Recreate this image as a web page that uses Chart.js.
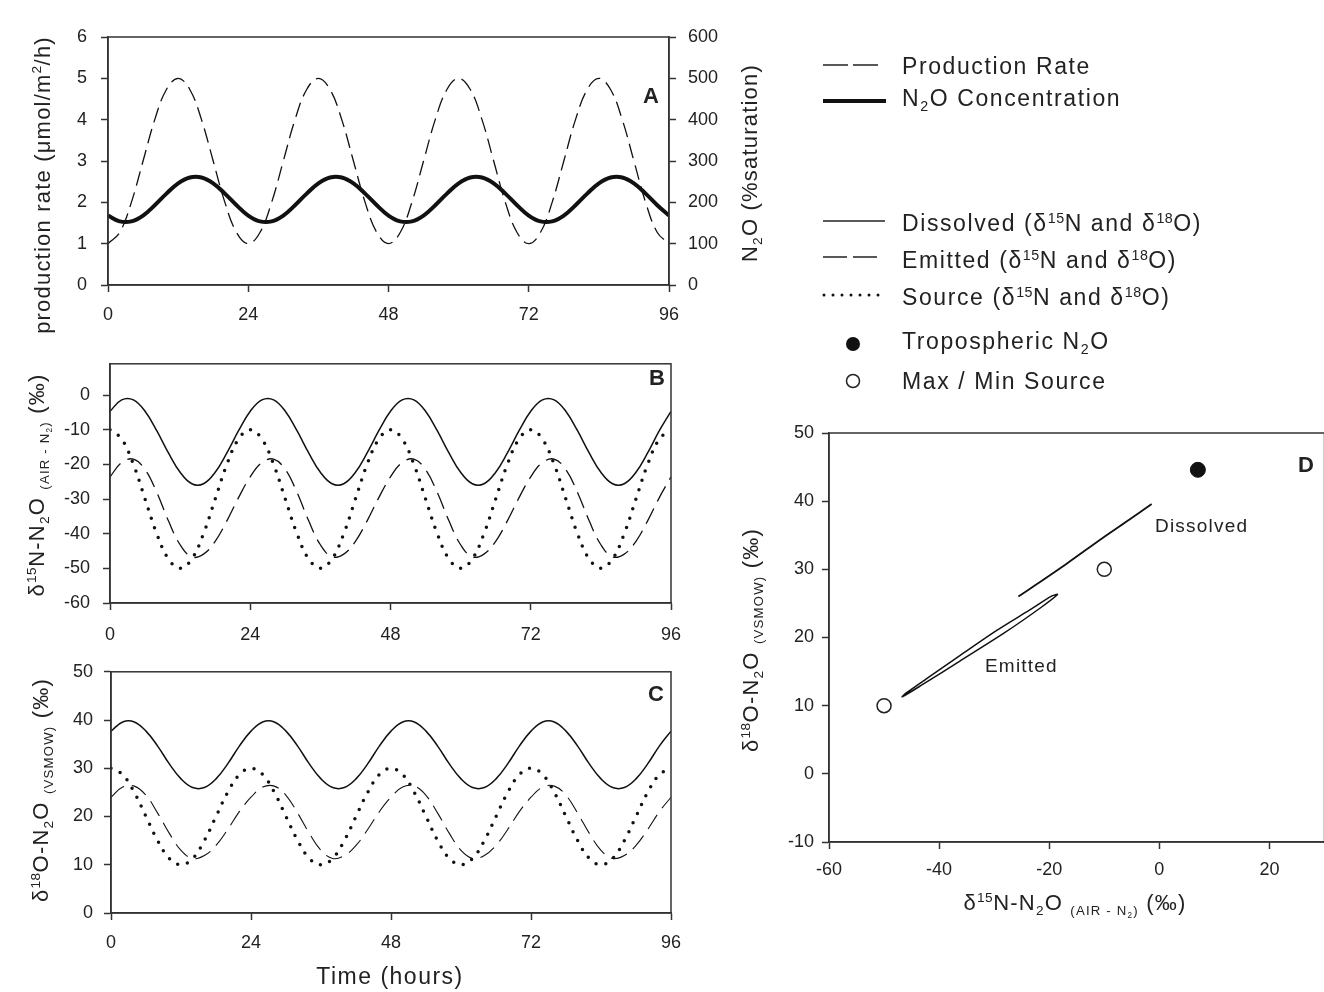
<!DOCTYPE html>
<html lang="en">
<head>
<meta charset="UTF-8" />
<title>N2O production and isotopes</title>
<script src="https://cdn.jsdelivr.net/npm/chart.js"></script>
<style>
  * { margin: 0; padding: 0; box-sizing: border-box; }
  body {
    width: 1324px; height: 992px; background: #fff; position: relative; overflow: hidden;
    font-family: 'Liberation Sans', Arial, sans-serif; color: #222;
  }
  .panel { position: absolute; }
  .txt { position: absolute; white-space: nowrap; letter-spacing: 1.2px; font-size: 22px; line-height: 1; }
  .rot { transform: translate(-50%, -50%) rotate(-90deg); }
  .ctr { transform: translate(-50%, -50%); }
  .mid { transform: translateY(-50%); }
  .sup { font-size: 0.62em; vertical-align: 0.6em; letter-spacing: 0.5px; }
  .sub { font-size: 0.62em; vertical-align: -0.35em; }
  .small { font-size: 0.6em; vertical-align: -0.4em; }
  .tag { font-weight: bold; font-size: 22px; letter-spacing: 0; }
  .lg { font-size: 23px; letter-spacing: 1.6px; }
  svg.overlay { position: absolute; left: 0; top: 0; pointer-events: none; }
</style>
</head>
<body>

<div class="panel" style="left:0;top:0;width:760px;height:340px"><canvas id="chartA" width="760" height="340"></canvas></div>
<div class="panel" style="left:0;top:340px;width:700px;height:320px"><canvas id="chartB" width="700" height="320"></canvas></div>
<div class="panel" style="left:0;top:650px;width:700px;height:342px"><canvas id="chartC" width="700" height="342"></canvas></div>
<div class="panel" style="left:740px;top:400px;width:593px;height:500px"><canvas id="chartD" width="593" height="500"></canvas></div>

<!-- axis titles -->
<div class="txt rot" style="left:42px;top:185px">production rate (&mu;mol/m<span class="sup">2</span>/h)</div>
<div class="txt rot" style="left:752px;top:163px">N<span class="sub">2</span>O (%saturation)</div>
<div class="txt rot" style="left:40px;top:485px">&delta;<span class="sup">15</span>N-N<span class="sub">2</span>O <span class="small">(AIR - N<span class="sub">2</span>)</span> (&permil;)</div>
<div class="txt rot" style="left:42px;top:790px">&delta;<span class="sup">18</span>O-N<span class="sub">2</span>O <span class="small">(VSMOW)</span> (&permil;)</div>
<div class="txt ctr" style="left:390px;top:976px;font-size:23px;letter-spacing:1.5px">Time (hours)</div>
<div class="txt rot" style="left:752px;top:640px">&delta;<span class="sup">18</span>O-N<span class="sub">2</span>O <span class="small">(VSMOW)</span> (&permil;)</div>
<div class="txt ctr" style="left:1075px;top:906px">&delta;<span class="sup">15</span>N-N<span class="sub">2</span>O <span class="small">(AIR - N<span class="sub">2</span>)</span> (&permil;)</div>

<!-- panel tags and annotations -->
<div class="txt ctr tag" style="left:651px;top:96px">A</div>
<div class="txt ctr tag" style="left:657px;top:378px">B</div>
<div class="txt ctr tag" style="left:656px;top:694px">C</div>
<div class="txt ctr tag" style="left:1306px;top:465px">D</div>
<div class="txt mid" style="left:1155px;top:525px;font-size:19px">Dissolved</div>
<div class="txt mid" style="left:985px;top:665px;font-size:19px">Emitted</div>

<!-- legend -->
<svg class="overlay" width="1324" height="992">
  <line x1="823" y1="65" x2="878" y2="65" stroke="#222" stroke-width="1.5" stroke-dasharray="25 5"/>
  <line x1="823" y1="101" x2="886" y2="101" stroke="#111" stroke-width="4"/>
  <line x1="823" y1="221" x2="885" y2="221" stroke="#222" stroke-width="1.5"/>
  <line x1="823" y1="257" x2="877" y2="257" stroke="#222" stroke-width="1.5" stroke-dasharray="24 6"/>
  <line x1="824" y1="295" x2="879" y2="295" stroke="#111" stroke-width="3" stroke-linecap="round" stroke-dasharray="0 9"/>
  <circle cx="853" cy="344" r="7" fill="#111"/>
  <circle cx="853" cy="381" r="6.5" fill="#fff" stroke="#222" stroke-width="1.5"/>
</svg>
<div class="txt mid lg" style="left:902px;top:66px">Production Rate</div>
<div class="txt mid lg" style="left:902px;top:100px">N<span class="sub">2</span>O Concentration</div>
<div class="txt mid lg" style="left:902px;top:223px">Dissolved (&delta;<span class="sup">15</span>N and &delta;<span class="sup">18</span>O)</div>
<div class="txt mid lg" style="left:902px;top:260px">Emitted (&delta;<span class="sup">15</span>N and &delta;<span class="sup">18</span>O)</div>
<div class="txt mid lg" style="left:902px;top:297px">Source (&delta;<span class="sup">15</span>N and &delta;<span class="sup">18</span>O)</div>
<div class="txt mid lg" style="left:902px;top:343px">Tropospheric N<span class="sub">2</span>O</div>
<div class="txt mid lg" style="left:902px;top:381px">Max / Min Source</div>

<script>
// time axis (hours), one reading every 2 h
const hours = [0, 2, 4, 6, 8, 10, 12, 14, 16, 18, 20, 22,
  24, 26, 28, 30, 32, 34, 36, 38, 40, 42, 44, 46,
  48, 50, 52, 54, 56, 58, 60, 62, 64, 66, 68, 70,
  72, 74, 76, 78, 80, 82, 84, 86, 88, 90, 92, 94, 96];
const hourTicks = [0, 24, 48, 72, 96];

// panel A
const productionRate = [1, 1.27, 2, 3, 4, 4.73, 5, 4.73, 4, 3, 2, 1.27,
  1, 1.27, 2, 3, 4, 4.73, 5, 4.73, 4, 3, 2, 1.27,
  1, 1.27, 2, 3, 4, 4.73, 5, 4.73, 4, 3, 2, 1.27,
  1, 1.27, 2, 3, 4, 4.73, 5, 4.73, 4, 3, 2, 1.27, 1];
const n2oSaturation = [168, 154, 154, 168, 193, 221, 246, 260, 260, 246, 221, 193,
  168, 154, 154, 168, 193, 221, 246, 260, 260, 246, 221, 193,
  168, 154, 154, 168, 193, 221, 246, 260, 260, 246, 221, 193,
  168, 154, 154, 168, 193, 221, 246, 260, 260, 246, 221, 193, 168];

// panel B: d15N
const dissolved15N = [-4.7, -1.4, -1.4, -4.7, -10.3, -16.7, -22.3, -25.6, -25.6, -22.3, -16.7, -10.3,
  -4.7, -1.4, -1.4, -4.7, -10.3, -16.7, -22.3, -25.6, -25.6, -22.3, -16.7, -10.3,
  -4.7, -1.4, -1.4, -4.7, -10.3, -16.7, -22.3, -25.6, -25.6, -22.3, -16.7, -10.3,
  -4.7, -1.4, -1.4, -4.7, -10.3, -16.7, -22.3, -25.6, -25.6, -22.3, -16.7, -10.3, -4.7];
const emitted15N = [-23.6, -19.5, -18.5, -21.5, -28.1, -36.3, -43.2, -46.7, -45.9, -42.2, -36.3, -29.6,
  -23.6, -19.5, -18.5, -21.5, -28.1, -36.3, -43.2, -46.7, -45.9, -42.2, -36.3, -29.6,
  -23.6, -19.5, -18.5, -21.5, -28.1, -36.3, -43.2, -46.7, -45.9, -42.2, -36.3, -29.6,
  -23.6, -19.5, -18.5, -21.5, -28.1, -36.3, -43.2, -46.7, -45.9, -42.2, -36.3, -29.6, -23.6];
const source15N = [-10, -12.7, -20, -30, -40, -47.3, -50, -47.3, -40, -30, -20, -12.7,
  -10, -12.7, -20, -30, -40, -47.3, -50, -47.3, -40, -30, -20, -12.7,
  -10, -12.7, -20, -30, -40, -47.3, -50, -47.3, -40, -30, -20, -12.7,
  -10, -12.7, -20, -30, -40, -47.3, -50, -47.3, -40, -30, -20, -12.7, -10];

// panel C: d18O
const dissolved18O = [37.7, 39.6, 39.6, 37.7, 34.6, 30.9, 27.8, 26.0, 26.0, 27.8, 30.9, 34.6,
  37.7, 39.6, 39.6, 37.7, 34.6, 30.9, 27.8, 26.0, 26.0, 27.8, 30.9, 34.6,
  37.7, 39.6, 39.6, 37.7, 34.6, 30.9, 27.8, 26.0, 26.0, 27.8, 30.9, 34.6,
  37.7, 39.6, 39.6, 37.7, 34.6, 30.9, 27.8, 26.0, 26.0, 27.8, 30.9, 34.6, 37.7];
const emitted18O = [24.0, 26.1, 26.3, 24.4, 20.7, 16.5, 13.0, 11.3, 11.9, 14.0, 17.3, 21.0,
  24.0, 26.1, 26.3, 24.4, 20.7, 16.5, 13.0, 11.3, 11.9, 14.0, 17.3, 21.0,
  24.0, 26.1, 26.3, 24.4, 20.7, 16.5, 13.0, 11.3, 11.9, 14.0, 17.3, 21.0,
  24.0, 26.1, 26.3, 24.4, 20.7, 16.5, 13.0, 11.3, 11.9, 14.0, 17.3, 21.0, 24.0];
const source18O = [30, 28.7, 25, 20, 15, 11.3, 10, 11.3, 15, 20, 25, 28.7,
  30, 28.7, 25, 20, 15, 11.3, 10, 11.3, 15, 20, 25, 28.7,
  30, 28.7, 25, 20, 15, 11.3, 10, 11.3, 15, 20, 25, 28.7,
  30, 28.7, 25, 20, 15, 11.3, 10, 11.3, 15, 20, 25, 28.7, 30];

// panel D extra point: [d15N, d18O]
const troposphericN2O = [7, 44.6];

const INK = '#111';
const AXIS = '#333';
Chart.defaults.font.family = "'Liberation Sans', Arial, sans-serif";
Chart.defaults.font.size = 18;
Chart.defaults.color = '#222';
Chart.defaults.animation = false;

// frame round the plot area
const boxPlugin = {
  id: 'box',
  afterDraw(chart) {
    const a = chart.chartArea, ctx = chart.ctx;
    ctx.save();
    ctx.strokeStyle = AXIS;
    ctx.lineWidth = 1.5;
    ctx.strokeRect(a.left, a.top, a.right - a.left, a.bottom - a.top);
    ctx.restore();
  }
};

function axisStyle(pad) {
  return {
    bounds: 'data',
    border: { display: true, color: AXIS, width: 1.5 },
    grid: { drawOnChartArea: false, drawTicks: true, tickLength: 7, color: AXIS, tickWidth: 1.5 },
    ticks: { padding: pad }
  };
}

// x axes: fixed height, no extra side padding for the end labels
function fixHeight(height) {
  return s => { s.height = height; s.paddingLeft = 0; s.paddingRight = 0; };
}

function timeAxis(height, pad) {
  const ax = axisStyle(pad);
  ax.type = 'linear';
  ax.min = 0; ax.max = 96;
  ax.ticks.stepSize = 24;
  ax.afterBuildTicks = s => { s.ticks = hourTicks.map(v => ({ value: v })); };
  ax.afterFit = fixHeight(height);
  return ax;
}

// only keep ticks that land on whole steps (drops a loose max like 9 or 30)
function valueAxis(min, max, step, size, pad, position) {
  const ax = axisStyle(pad);
  ax.type = 'linear';
  ax.position = position || 'left';
  ax.min = min; ax.max = max;
  ax.ticks.stepSize = step;
  ax.afterBuildTicks = s => { s.ticks = s.ticks.filter(t => Math.abs(t.value % step) < 1e-9); };
  ax.afterFit = position === 'bottom' ? fixHeight(size) : s => { s.width = size; };
  return ax;
}

function series(ys, style) {
  return Object.assign({
    data: hours.map((h, i) => ({ x: h, y: ys[i] })),
    borderColor: INK, borderWidth: 1.5, pointRadius: 0, tension: 0.4, fill: false
  }, style);
}

const dashed = { borderDash: [15, 7], borderWidth: 1.3 };
const dotted = { borderDash: [0, 10], borderWidth: 3.5, borderCapStyle: 'round' };

const baseOptions = (padding, scales) => ({
  responsive: false,
  layout: { padding },
  plugins: { legend: { display: false }, tooltip: { enabled: false } },
  scales
});

// A: production rate and N2O saturation
new Chart(document.getElementById('chartA'), {
  type: 'line',
  data: {
    datasets: [
      series(n2oSaturation, { yAxisID: 'y1', borderWidth: 4 }),
      series(productionRate, Object.assign({ yAxisID: 'y' }, dashed))
    ]
  },
  options: baseOptions({ top: 37, right: 0, left: 0, bottom: 0 }, {
    x: timeAxis(55, 12),
    y: valueAxis(0, 6, 1, 108, 14, 'left'),
    y1: valueAxis(0, 600, 100, 91, 12, 'right')
  }),
  plugins: [boxPlugin]
});

// B: d15N
new Chart(document.getElementById('chartB'), {
  type: 'line',
  data: {
    datasets: [
      series(dissolved15N, {}),
      series(emitted15N, { borderDash: [17, 8], borderWidth: 1.3 }),
      series(source15N, dotted)
    ]
  },
  options: baseOptions({ top: 16, right: 29, left: 0, bottom: 0 }, {
    x: timeAxis(57, 14),
    y: valueAxis(-60, 9, 10, 110, 13, 'left')
  }),
  plugins: [boxPlugin]
});

// C: d18O
new Chart(document.getElementById('chartC'), {
  type: 'line',
  data: {
    datasets: [
      series(dissolved18O, {}),
      series(emitted18O, { borderDash: [17, 8], borderWidth: 1.1 }),
      series(source18O, dotted)
    ]
  },
  options: baseOptions({ top: 13, right: 29, left: 0, bottom: 0 }, {
    x: timeAxis(79, 12),
    y: valueAxis(0, 50, 10, 111, 11, 'left')
  }),
  plugins: [boxPlugin]
});

// D: d18O against d15N over one day
const oneDay = hours.filter(h => h <= 24).length;
const loop = (xs, ys) => xs.slice(0, oneDay).map((x, i) => ({ x, y: ys[i] }));
const sourceExtremes = [
  { x: Math.min(...source15N), y: Math.min(...source18O) },
  { x: Math.max(...source15N), y: Math.max(...source18O) }
];

new Chart(document.getElementById('chartD'), {
  type: 'scatter',
  data: {
    datasets: [
      { data: [{ x: troposphericN2O[0], y: troposphericN2O[1] }], pointRadius: 7.5,
        pointBackgroundColor: INK, pointBorderColor: INK, pointBorderWidth: 1 },
      { data: sourceExtremes, pointRadius: 7, pointBackgroundColor: '#fff',
        pointBorderColor: '#222', pointBorderWidth: 1.5 },
      { data: loop(dissolved15N, dissolved18O), showLine: true, pointRadius: 0,
        borderColor: INK, borderWidth: 1.8, tension: 0.3 },
      { data: loop(emitted15N, emitted18O), showLine: true, pointRadius: 0,
        borderColor: INK, borderWidth: 1.5, tension: 0.3 }
    ]
  },
  options: baseOptions({ top: 33, right: 1, left: 0, bottom: 0 }, {
    x: valueAxis(-60, 30, 20, 58, 10, 'bottom'),
    y: valueAxis(-10, 50, 10, 89, 8, 'left')
  }),
  plugins: [boxPlugin]
});
</script>
</body>
</html>
